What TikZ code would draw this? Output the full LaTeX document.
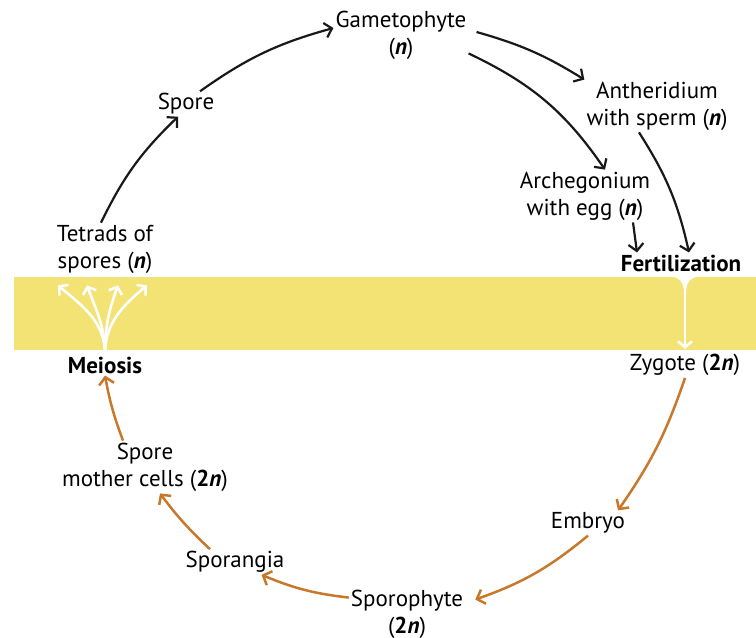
\documentclass[tikz,border=0pt]{standalone}
\usepackage{fontspec}
\setmainfont{PT Sans}
\usetikzlibrary{arrows, arrows.meta}
\usetikzlibrary{calc}
\definecolor{bandyellow}{RGB}{243,226,116}
\definecolor{sporoorange}{RGB}{200,120,42}
\newcommand{\haplo}{\textbf{\textit{n}}}
\newcommand{\diplo}{\textbf{2\textit{n}}}

\begin{document}
\begin{tikzpicture}[x=1pt, y=1pt,
    lbl/.style={align=center, inner sep=2pt, font=\fontsize{23}{27}\selectfont},
    blkarrow/.style={draw=black!90, line width=2.2pt, -{Straight Barb[length=7pt, width=15pt]}},
    orgarrow/.style={draw=sporoorange, line width=2.5pt, -{Straight Barb[length=7pt, width=15pt]}},
    whtarrow/.style={draw=white, line width=2.6pt, -{Straight Barb[length=6pt, width=14pt]}}]
    \useasboundingbox (0,0) rectangle (756,638);
    \fill[bandyellow] (14,288) rectangle (756,361);

    \node[lbl] (game) at (401,603) {Gametophyte\\(\haplo)};
    \node[lbl] (anth) at (657,532) {Antheridium\\with sperm (\haplo)};
    \node[lbl] (arch) at (585,442) {Archegonium\\with egg (\haplo)};
    \node[lbl, font=\fontsize{23}{27}\selectfont\bfseries] (fert) at (681,375) {Fertilization};
    \node[lbl] (zyg) at (685,273) {Zygote (\diplo)};
    \node[lbl] (emb) at (588,115) {Embryo};
    \node[lbl] (spph) at (407,24) {Sporophyte\\(\diplo)};
    \node[lbl] (spga) at (235,76) {Sporangia};
    \node[lbl] (smc) at (145,171) {Spore\\mother cells (\diplo)};
    \node[lbl, font=\fontsize{23}{27}\selectfont\bfseries] (meio) at (105,273) {Meiosis};
    \node[lbl] (tetr) at (105,389) {Tetrads of\\spores (\haplo)};
    \node[lbl] (spore) at (186,534) {Spore};

    \draw[blkarrow] ([xshift=-4]tetr.north) to[bend left=10] ([xshift=-8]spore.south);
    \draw[blkarrow] ([xshift=14]spore.north) to[bend left=10] ([yshift=7]game.west);
    \draw[blkarrow] ([xshift=8, yshift=3]game.east) to[bend left=8] (anth.north west);
    \draw[blkarrow] ([yshift=8]game.south east) to[bend left=15] ([xshift=20]arch.north);
    \draw[blkarrow] ([xshift=-18]anth.south) to[bend left=10] ([xshift=8]fert.north);
    \draw[blkarrow] ([xshift=48]arch.south) -- ([xshift=-44]fert.north);

    \fill[white] (670,362) .. controls (681,360) and (684,355) .. (684,344) -- (686,344) .. controls (686,355) and (689,360) .. (700,362) -- cycle;
    \draw[whtarrow, shorten >=3pt] (zyg.north |- fert.south) -- (zyg.north);
    \foreach \dx/\ang in {-47/-40, -18/-70, 13/-110, 42/-140}
        \draw[whtarrow] (meio.north) to[out=90, in=\ang] ([xshift=\dx, yshift=-10]tetr.south);

    \draw[orgarrow] (zyg.south) to[bend left=8] ([xshift=30]emb.north);
    \draw[orgarrow] (emb.south) to[bend left=10] ([xshift=10, yshift=-12]spph.north east);
    \draw[orgarrow] ([yshift=-10]spph.north west) to[bend left=8] ([xshift=-25]spga.south east);
    \draw[orgarrow] ([xshift=-25]spga.north) to[bend left=5] ([xshift=15]smc.south);
    \draw[orgarrow] ([xshift=-22]smc.north) to[bend left=5] (meio.south);
\end{tikzpicture}
\end{document}
